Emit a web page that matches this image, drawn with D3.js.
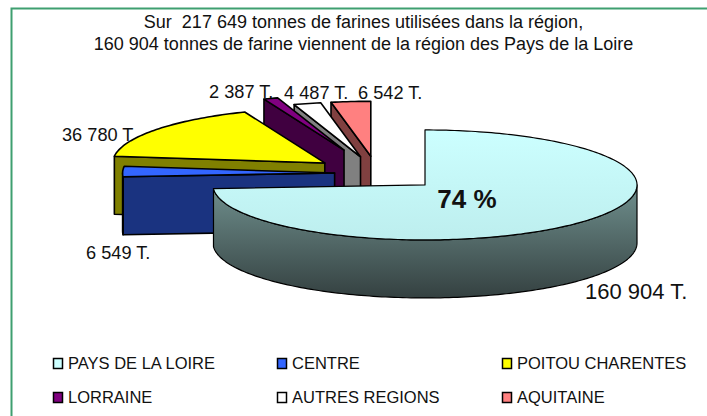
<!DOCTYPE html>
<html><head><meta charset="utf-8">
<script src="https://cdn.jsdelivr.net/npm/d3@7"></script>
<style>html,body{margin:0;padding:0;background:#fff}svg{display:block}text{font-family:"Liberation Sans",Arial,sans-serif;fill:#111;white-space:pre}</style>
</head><body><svg id="c" width="707" height="416"></svg>
<script>
const categories=["PAYS DE LA LOIRE","CENTRE","POITOU CHARENTES","LORRAINE","AUTRES REGIONS","AQUITAINE"];
const tonnes=[160904,6549,36780,2387,4487,6542];
const explosion=[0.31,0.2,0.31,0.45,0.31,0.31];
const valueLabels=["160 904 T.","6 549 T.","36 780 T.","2 387 T.","4 487 T.","6 542 T."];
const topColors=["#ccffff","#3366ff","#ffff00","#800080","#ffffff","#ff8080"];
const wallColors=["#5f7f7f","#1a3380","#808000","#400040","#808080","#804040"];
const titleLines=["Sur  217 649 tonnes de farines utilisées dans la région,","160 904 tonnes de farine viennent de la région des Pays de la Loire"];

const svg=d3.select("#c");
const rx=212,ry=55,depth=58,cx0=377,cy0=173.3;
const defs=svg.append("defs");
const g1=defs.append("linearGradient").attr("id","wallG").attr("gradientUnits","userSpaceOnUse").attr("x1",0).attr("x2",0).attr("y1",186).attr("y2",300);
g1.append("stop").attr("offset",0).attr("stop-color","#6f8f8d");
g1.append("stop").attr("offset",1).attr("stop-color","#333f3f");
const g2=defs.append("linearGradient").attr("id","topG").attr("gradientUnits","userSpaceOnUse").attr("x1",0).attr("x2",0).attr("y1",130).attr("y2",240);
g2.append("stop").attr("offset",0).attr("stop-color","#ccffff");
g2.append("stop").attr("offset",1).attr("stop-color","#bdeeee");

svg.append("rect").attr("x",11.5).attr("y",8.5).attr("width",720).attr("height",440).attr("fill","#fff").attr("stroke","#3f9f70").attr("stroke-width",2);

svg.selectAll("text.title").data(titleLines).join("text").attr("class","title")
  .attr("x",363.5).attr("y",(d,i)=>28+i*22).attr("text-anchor","middle").attr("font-size",18).text(d=>d);

const labelX=[585,86,62,209,284,358], labelY=[299,259,141,98,99,99];
svg.selectAll("text.v").data(valueLabels).join("text").attr("class","v")
  .attr("x",(d,i)=>labelX[i]).attr("y",(d,i)=>labelY[i]).attr("font-size",(d,i)=>i===0?22:18.2).text(d=>d);

const arcs=d3.pie().sort(null).startAngle(0).endAngle(2*Math.PI)(tonnes);
const x=a=>rx*Math.sin(a), y=a=>-ry*Math.cos(a);
const line=d3.line();
function rim(a0,a1,cx,cy){
  const n=Math.max(2,Math.ceil((a1-a0)/0.02));
  return d3.range(n+1).map(i=>{const a=a0+(a1-a0)*i/n;return [cx+x(a),cy+y(a)];});
}
const order=[5,4,3,2,1,0];
function draw(sel,d,fill,w){sel.append("path").attr("d",d).attr("fill",fill).attr("stroke","#000").attr("stroke-width",w).attr("stroke-linejoin","round");}
const layer=svg.append("g");
order.forEach(i=>{
  const s=arcs[i],mid=(s.startAngle+s.endAngle)/2,e=explosion[i];
  const cx=cx0+e*x(mid),cy=cy0+e*y(mid);
  const wall=i===0?"url(#wallG)":wallColors[i], top=i===0?"url(#topG)":topColors[i];
  const w=i===0?1.2:1.6;
  const g=layer.append("g");
  if(-Math.cos(s.startAngle-Math.PI/2)>0){
    const p=[cx+x(s.startAngle),cy+y(s.startAngle)];
    draw(g,line([[cx,cy],p,[p[0],p[1]+depth],[cx,cy+depth]])+"Z",wall,w);
  }
  const a0=Math.max(s.startAngle,Math.PI/2),a1=Math.min(s.endAngle,3*Math.PI/2);
  if(a1>a0){
    const r=rim(a0,a1,cx,cy);
    draw(g,line(r.concat(r.slice().reverse().map(p=>[p[0],p[1]+depth])))+"Z",wall,w);
  }
  draw(g,line([[cx,cy]].concat(rim(s.startAngle,s.endAngle,cx,cy)))+"Z",top,w);
});

svg.append("text").attr("x",467).attr("y",208).attr("text-anchor","middle").attr("font-size",26).attr("font-weight","bold").text("74 %");

const legX=[53,277,502],legY=[369,403];
const leg=svg.selectAll("g.l").data(categories).join("g").attr("class","l")
  .attr("transform",(d,i)=>`translate(${legX[i%3]},${legY[i<3?0:1]})`);
leg.append("rect").attr("x",0.5).attr("y",-10.5).attr("width",9).attr("height",10).attr("fill",(d,i)=>topColors[i]).attr("stroke","#000").attr("stroke-width",1.5);
leg.append("text").attr("x",15).attr("y",0).attr("font-size",16.5).text(d=>d);
</script></body></html>
